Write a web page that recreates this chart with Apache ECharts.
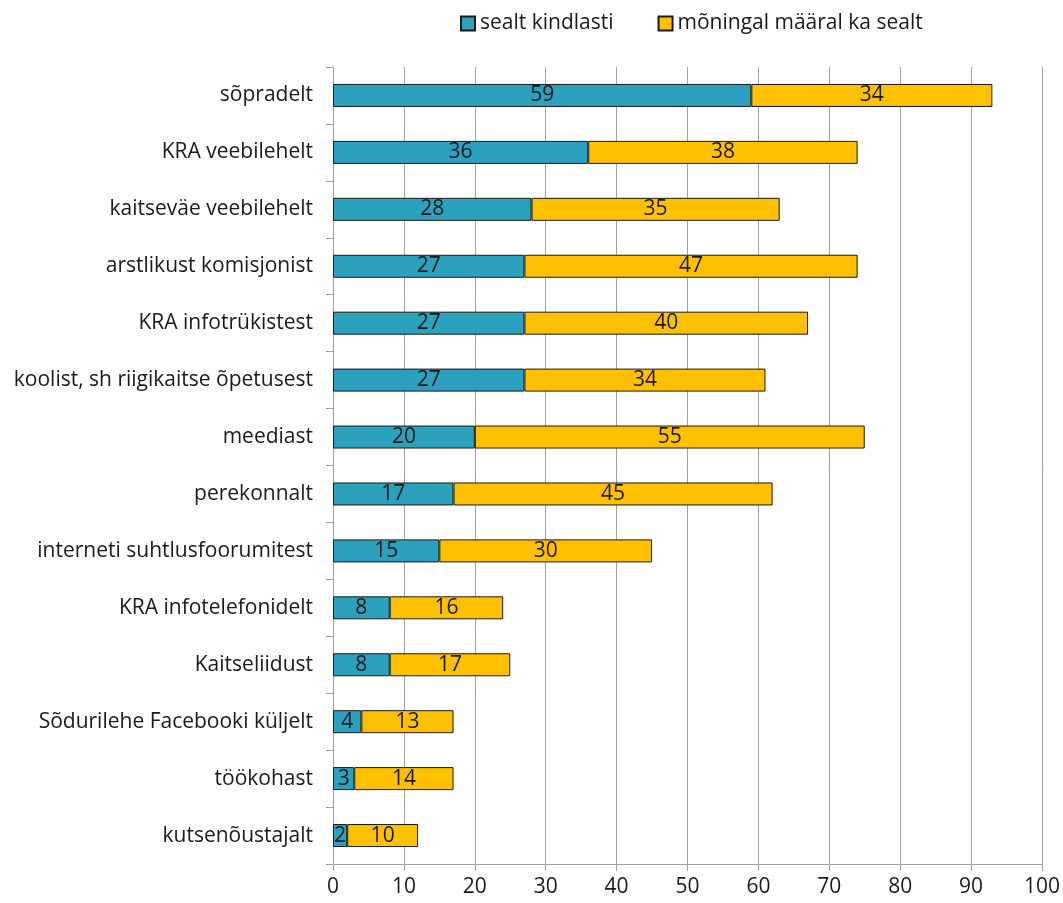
<!DOCTYPE html>
<html><head><meta charset="utf-8">
<script src="https://cdn.jsdelivr.net/npm/echarts@6/dist/echarts.min.js"></script>
<style>html,body{margin:0;padding:0;background:#fff}#c{width:1063px;height:903px}</style>
</head><body><div id="c"></div>
<script>
const categories = ["sõpradelt","KRA veebilehelt","kaitseväe veebilehelt","arstlikust komisjonist","KRA infotrükistest","koolist, sh riigikaitse õpetusest","meediast","perekonnalt","interneti suhtlusfoorumitest","KRA infotelefonidelt","Kaitseliidust","Sõdurilehe Facebooki küljelt","töökohast","kutsenõustajalt"];
const kindlasti = [59,36,28,27,27,27,20,17,15,8,8,4,3,2];
const moningal = [34,38,35,47,40,34,55,45,30,16,17,13,14,10];
const seriesNames = ["sealt kindlasti","mõningal määral ka sealt"];
const xTicks = [0,10,20,30,40,50,60,70,80,90,100];

const font = "'Open Sans', 'Liberation Sans', sans-serif";
const chart = echarts.init(document.getElementById('c'));
const lbl = {show:true, position:'inside', color:'#1a1a1a', fontSize:21, fontFamily:font};
chart.setOption({
  animation:false,
  legend:{top:8, left:455, itemWidth:14, itemHeight:14, itemGap:44, icon:'rect',
    textStyle:{fontSize:21, fontFamily:font, color:'#1a1a1a'}, data:seriesNames},
  grid:{left:333, right:20, top:67, bottom:39, containLabel:false},
  xAxis:{type:'value', min:0, max:100, interval:10,
    axisLine:{show:true, lineStyle:{color:'#a0a0a0'}},
    axisTick:{show:true, length:7, lineStyle:{color:'#a0a0a0'}},
    splitLine:{show:true, lineStyle:{color:'#a0a0a0'}},
    axisLabel:{fontSize:21, fontFamily:font, color:'#1a1a1a', margin:13,
      formatter:v=>xTicks.includes(v)?String(v):''}},
  yAxis:{type:'category', inverse:true, data:categories,
    axisLine:{show:true, lineStyle:{color:'#a0a0a0'}},
    axisTick:{show:true, length:7, lineStyle:{color:'#a0a0a0'}},
    axisLabel:{fontSize:21, fontFamily:font, color:'#1a1a1a', margin:20}},
  series:[
    {name:seriesNames[0], type:'bar', stack:'a', data:kindlasti, barWidth:23,
     itemStyle:{color:'#2CA1BE', borderColor:'#1a1a1a', borderWidth:1}, label:lbl},
    {name:seriesNames[1], type:'bar', stack:'a', data:moningal, barWidth:23,
     itemStyle:{color:'#FFC000', borderColor:'#1a1a1a', borderWidth:1}, label:lbl}
  ]
});
</script></body></html>
